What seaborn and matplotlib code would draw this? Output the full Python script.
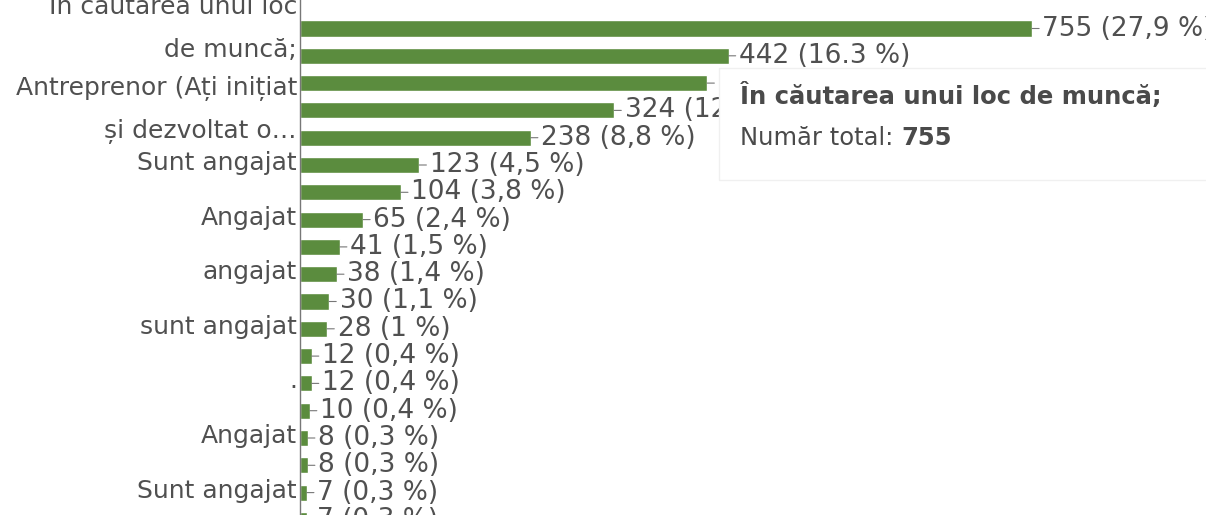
import matplotlib
matplotlib.use("Agg")
import matplotlib.pyplot as plt
from matplotlib.patches import Rectangle
import seaborn as sns

# Answers as shown on the axis (Google Forms skips labels that would overlap)
answers = [
    "În căutarea unui loc\nde muncă;", "", "", "Antreprenor (Ați inițiat\nși dezvoltat o…",
    "", "Sunt angajat", "", "Angajat", "", "angajat", "", "sunt angajat",
    "", ".", "", "Angajat", "", "Sunt angajat", "",
]
counts = [755, 442, 420, 324, 238, 123, 104, 65, 41, 38, 30, 28, 12, 12, 10, 8, 8, 7, 7]
percents = ["27,9", "16.3", "15,5", "12", "8,8", "4,5", "3,8", "2,4", "1,5", "1,4",
            "1,1", "1", "0,4", "0,4", "0,4", "0,3", "0,3", "0,3", "0,3"]

tooltip_title = "În căutarea unui loc de muncă;"
tooltip_total = 755

green = "#5b8c3e"
grey_text = "#505050"

W, H = 1206, 515
sns.set_style("white")
plt.rcParams["font.family"] = ["DejaVu Sans"]

fig = plt.figure(figsize=(W / 100, H / 100), dpi=100)
ax = fig.add_axes([300 / W, 0, 1 - 300 / W, 1])

rows = list(range(len(counts)))
sns.barplot(x=counts, y=rows, orient="h", color=green, width=0.59,
            saturation=1, ax=ax)

# value labels with short leader lines
for i, (c, p) in enumerate(zip(counts, percents)):
    ax.annotate(f"{c} ({p} %)", xy=(c, i), xytext=(7.5, 0),
                textcoords="offset points", va="center", ha="left",
                fontsize=19, color=grey_text, annotation_clip=False,
                arrowprops=dict(arrowstyle="-", color="#777777", lw=0.8,
                                shrinkA=0, shrinkB=0))

# category labels left of the axis
for i, lab in enumerate(answers):
    if not lab:
        continue
    dy = 0 if "\n" in lab else 2
    ax.annotate(lab, xy=(0, i), xycoords=("axes fraction", "data"),
                xytext=(-3, dy), textcoords="offset pixels", ha="right",
                va="center", fontsize=18, color=grey_text, linespacing=1.95,
                multialignment="right", annotation_clip=False)

ax.set_yticks([])
ax.set_xticks([])
ax.set_xlabel("")
ax.set_ylabel("")

# the chart is cropped at top and bottom
row_px, first_px = 27.3, 28.5
ax.set_ylim((H - first_px) / row_px, -first_px / row_px)
ax.set_xlim(0, (W - 300) * 755 / 732)

for s in ["top", "right", "bottom"]:
    ax.spines[s].set_visible(False)
ax.spines["left"].set_color("#777777")
ax.spines["left"].set_linewidth(1)

# hover tooltip box on top of the chart
fig.add_artist(Rectangle((719 / W, 1 - 180 / H), 0.5, 112 / H,
                         transform=fig.transFigure, facecolor="white",
                         edgecolor="#f0f0f0", lw=1, zorder=5))
fig.text(740 / W, 1 - 96 / H, tooltip_title, fontsize=17.5, weight="bold",
         color="#4a4a4a", va="center", ha="left", zorder=6)
t_total = fig.text(740 / W, 1 - 138 / H, "Număr total: ", fontsize=17.5,
                   color="#4a4a4a", va="center", ha="left", zorder=6)
fig.canvas.draw()
bb = t_total.get_window_extent()
fig.text(bb.x1 / W, 1 - 138 / H, str(tooltip_total), fontsize=17.5,
         weight="bold", color="#4a4a4a", va="center", ha="left", zorder=6)

fig.savefig("out.png", dpi=100)
